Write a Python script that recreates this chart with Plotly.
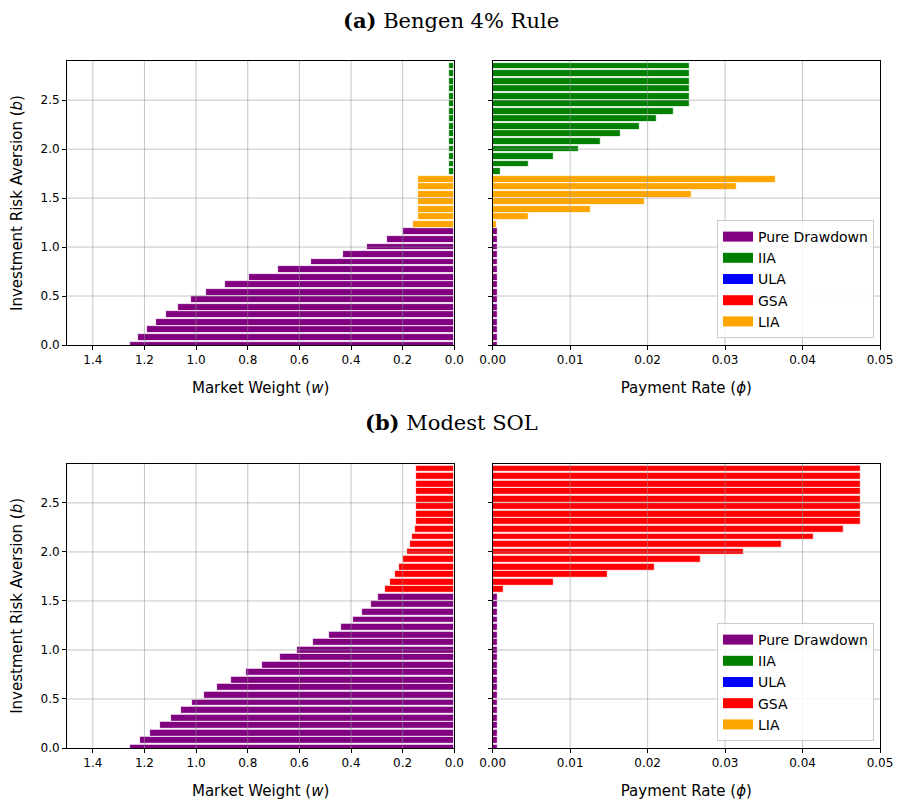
import plotly.graph_objects as go

# ---------------- data ----------------
b_values = [0.000, 0.077, 0.154, 0.231, 0.308, 0.385, 0.462, 0.539, 0.616, 0.693,
            0.770, 0.847, 0.924, 1.001, 1.078, 1.155, 1.232, 1.309, 1.386, 1.463,
            1.540, 1.617, 1.694, 1.771, 1.848, 1.925, 2.002, 2.079, 2.156, 2.233,
            2.310, 2.387, 2.464, 2.541, 2.618, 2.695, 2.772, 2.849]

strategies = ["Pure Drawdown", "IIA", "ULA", "GSA", "LIA"]
strategy_colors = ["#800080", "#008000", "#0000ff", "#ff0000", "#ffa500"]

# (a) Bengen 4% Rule
a_strategy = ["Pure Drawdown", "Pure Drawdown", "Pure Drawdown", "Pure Drawdown",
              "Pure Drawdown", "Pure Drawdown", "Pure Drawdown", "Pure Drawdown",
              "Pure Drawdown", "Pure Drawdown", "Pure Drawdown", "Pure Drawdown",
              "Pure Drawdown", "Pure Drawdown", "Pure Drawdown", "Pure Drawdown",
              "LIA", "LIA", "LIA", "LIA", "LIA", "LIA", "LIA",
              "IIA", "IIA", "IIA", "IIA", "IIA", "IIA", "IIA", "IIA",
              "IIA", "IIA", "IIA", "IIA", "IIA", "IIA", "IIA"]
a_weight = [1.257, 1.226, 1.191, 1.155, 1.115, 1.071, 1.021, 0.960, 0.887, 0.794,
            0.681, 0.554, 0.433, 0.338, 0.262, 0.200, 0.159, 0.141, 0.141, 0.141,
            0.141, 0.141, 0.141, 0.021, 0.021, 0.021, 0.021, 0.021, 0.021, 0.021,
            0.021, 0.021, 0.021, 0.021, 0.021, 0.021, 0.021, 0.021]
a_rate = [0.0006, 0.0006, 0.0006, 0.0006, 0.0006, 0.0006, 0.0006, 0.0006, 0.0006, 0.0006,
          0.0006, 0.0006, 0.0006, 0.0006, 0.0006, 0.0006, 0.00056, 0.0046, 0.01269, 0.01957,
          0.02568, 0.03148, 0.03656, 0.00103, 0.0046, 0.00791, 0.01105, 0.01389, 0.01647, 0.01892,
          0.0212, 0.02335, 0.02538, 0.02538, 0.02538, 0.02538, 0.02538, 0.02538]

# (b) Modest SOL
b_strategy = ["Pure Drawdown", "Pure Drawdown", "Pure Drawdown", "Pure Drawdown",
              "Pure Drawdown", "Pure Drawdown", "Pure Drawdown", "Pure Drawdown",
              "Pure Drawdown", "Pure Drawdown", "Pure Drawdown", "Pure Drawdown",
              "Pure Drawdown", "Pure Drawdown", "Pure Drawdown", "Pure Drawdown",
              "Pure Drawdown", "Pure Drawdown", "Pure Drawdown", "Pure Drawdown",
              "Pure Drawdown",
              "GSA", "GSA", "GSA", "GSA", "GSA", "GSA", "GSA", "GSA", "GSA",
              "GSA", "GSA", "GSA", "GSA", "GSA", "GSA", "GSA", "GSA"]
b_weight = [1.257, 1.217, 1.177, 1.140, 1.098, 1.058, 1.015, 0.969, 0.919, 0.866,
            0.806, 0.743, 0.676, 0.611, 0.547, 0.487, 0.438, 0.393, 0.357, 0.322,
            0.294, 0.269, 0.249, 0.229, 0.213, 0.197, 0.184, 0.173, 0.162, 0.153,
            0.147, 0.147, 0.147, 0.147, 0.147, 0.147, 0.147, 0.147]
b_rate = [0.0006, 0.0006, 0.0006, 0.0006, 0.0006, 0.0006, 0.0006, 0.0006, 0.0006, 0.0006,
          0.0006, 0.0006, 0.0006, 0.0006, 0.0006, 0.0006, 0.0006, 0.0006, 0.0006, 0.0006,
          0.0006, 0.00146, 0.00787, 0.0148, 0.0209, 0.0268, 0.03239, 0.03733, 0.0415, 0.04525,
          0.04753, 0.04753, 0.04753, 0.04753, 0.04753, 0.04753, 0.04753, 0.04753]

weight_ticks = [0.0, 0.2, 0.4, 0.6, 0.8, 1.0, 1.2, 1.4]
rate_ticks = [0.00, 0.01, 0.02, 0.03, 0.04, 0.05]
b_ticks = [0.0, 0.5, 1.0, 1.5, 2.0, 2.5]

panel_titles = ["<b>(a)</b> Bengen 4% Rule", "<b>(b)</b> Modest SOL"]
weight_title = "Market Weight (<i>w</i>)"
rate_title = "Payment Rate (<i>ϕ</i>)"
b_title = "Investment Risk Aversion (<i>b</i>)"

# ---------------- figure ----------------
FONT = "DejaVu Sans"
fig = go.Figure()

panels = [
    (a_strategy, a_weight, a_rate, ("x", "y"), ("x2", "y2"), "legend"),
    (b_strategy, b_weight, b_rate, ("x3", "y3"), ("x4", "y4"), "legend2"),
]

BAR_W = 0.07
for strat_list, weight, rate, left_ax, right_ax, leg in panels:
    for name, color in zip(strategies, strategy_colors):
        idx = [i for i, s in enumerate(strat_list) if s == name]
        if idx:
            ys = [b_values[i] for i in idx]
            fig.add_trace(go.Bar(
                x=[weight[i] for i in idx], y=ys, orientation="h",
                width=BAR_W, marker=dict(color=color, line=dict(color="white", width=0.8)),
                xaxis=left_ax[0], yaxis=left_ax[1], showlegend=False, name=name,
            ))
            fig.add_trace(go.Bar(
                x=[rate[i] for i in idx], y=ys, orientation="h",
                width=BAR_W, marker=dict(color=color, line=dict(color="white", width=0.8)),
                xaxis=right_ax[0], yaxis=right_ax[1], showlegend=False, name=name,
            ))
        # legend entries (wide patches like matplotlib)
        fig.add_trace(go.Scatter(
            x=[None], y=[None], mode="lines", name=name,
            line=dict(color=color, width=10),
            xaxis=right_ax[0], yaxis=right_ax[1], legend=leg, showlegend=True,
        ))

# geometry: target pixel positions in the 901x802 window; the page body adds an 8px offset
OFF = 8
W, H = 901 - OFF, 802 - OFF
ML, MR, MT, MB = 59, 13, 53, 46
PW, PH = W - ML - MR, H - MT - MB


def fx(px):
    return (px - OFF - ML) / PW


def fy(py):
    return (H - MB - (py - OFF)) / PH


left_dom = [fx(67), fx(454.3)]
right_dom = [fx(492.7), fx(880)]
top_dom = [fy(345), fy(61)]
bot_dom = [fy(748), fy(463.7)]

common = dict(
    showline=True, mirror=True, linecolor="black", linewidth=1,
    ticks="outside", ticklen=4, tickwidth=1, tickcolor="black",
    showgrid=False, zeroline=False, layer="above traces",
    tickfont=dict(family=FONT, size=12, color="black"),
)


def xw(dom, anchor):
    return dict(common, domain=dom, anchor=anchor, range=[1.5, 0],
                tickvals=weight_ticks, tickformat=".1f",
                title=dict(text=weight_title, font=dict(family=FONT, size=15, color="black"),
                           standoff=16))


def xr(dom, anchor):
    return dict(common, domain=dom, anchor=anchor, range=[0, 0.05],
                tickvals=rate_ticks, tickformat=".2f",
                title=dict(text=rate_title, font=dict(family=FONT, size=15, color="black"),
                           standoff=16))


def yl(dom, anchor):
    return dict(common, domain=dom, anchor=anchor, range=[0, 2.9],
                tickvals=b_ticks, tickformat=".1f",
                title=dict(text=b_title, font=dict(family=FONT, size=15, color="black"),
                           standoff=16))


def yr(dom, anchor, match):
    return dict(common, domain=dom, anchor=anchor, range=[0, 2.9], matches=match,
                tickvals=b_ticks, showticklabels=False)


legend_common = dict(
    font=dict(family=FONT, size=14, color="black"),
    bgcolor="rgba(255,255,255,0.85)", bordercolor="#cccccc", borderwidth=1,
    xanchor="right", yanchor="bottom", itemwidth=30, tracegroupgap=0,
)

fig.update_layout(
    width=W, height=H,
    margin=dict(l=ML, r=MR, t=MT, b=MB, autoexpand=False),
    paper_bgcolor="white", plot_bgcolor="white",
    barmode="overlay", bargap=0,
    font=dict(family=FONT, color="black"),
    xaxis=xw(left_dom, "y"), yaxis=yl(top_dom, "x"),
    xaxis2=xr(right_dom, "y2"), yaxis2=yr(top_dom, "x2", "y"),
    xaxis3=xw(left_dom, "y3"), yaxis3=yl(bot_dom, "x3"),
    xaxis4=xr(right_dom, "y4"), yaxis4=yr(bot_dom, "x4", "y3"),
    legend=dict(legend_common, x=fx(874), y=fy(338)),
    legend2=dict(legend_common, x=fx(874), y=fy(741)),
    showlegend=True,
)

# panel titles
for title, py in zip(panel_titles, [20, 422]):
    fig.add_annotation(text=title, xref="paper", yref="paper", x=fx(451), y=fy(py),
                       xanchor="center", yanchor="middle", showarrow=False,
                       font=dict(family="DejaVu Serif", size=21, color="black"))

# grid lines drawn above the bars (as in the reference)
GRID = dict(color="rgba(150,150,150,0.55)", width=1)
grid_sets = [
    ("x", "y", weight_ticks, b_ticks, (0, 1.5)),
    ("x2", "y2", rate_ticks, b_ticks, (0, 0.05)),
    ("x3", "y3", weight_ticks, b_ticks, (0, 1.5)),
    ("x4", "y4", rate_ticks, b_ticks, (0, 0.05)),
]
for xa, ya, xt, yt, xlim in grid_sets:
    for v in xt:
        if xlim[0] < v < xlim[1]:
            fig.add_shape(type="line", xref=xa, yref=ya + " domain", x0=v, x1=v, y0=0, y1=1,
                          line=GRID, layer="above")
    for v in yt:
        if 0 < v < 2.9:
            fig.add_shape(type="line", xref=xa + " domain", yref=ya, x0=0, x1=1, y0=v, y1=v,
                          line=GRID, layer="above")

fig.write_html("out.html")
